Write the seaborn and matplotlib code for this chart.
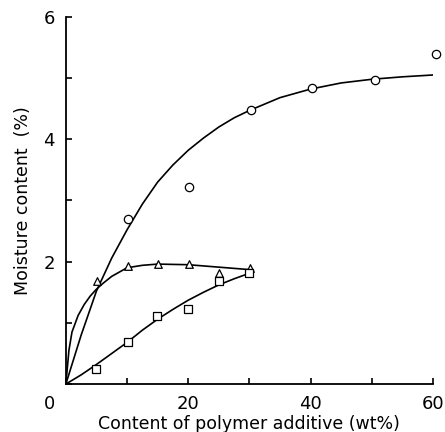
import numpy as np
import pandas as pd
import seaborn as sns
import matplotlib
matplotlib.use("Agg")
import matplotlib.pyplot as plt

# measured points
circ_x = [10.1, 20.2, 30.2, 40.2, 50.5, 60.5]
circ_y = [2.70, 3.22, 4.47, 4.83, 4.97, 5.39]
tri_x = [5.1, 10.1, 15.0, 20.2, 25.0, 30.1]
tri_y = [1.68, 1.93, 1.96, 1.96, 1.82, 1.90]
sq_x = [5.0, 10.1, 14.9, 20.0, 25.0, 30.0]
sq_y = [0.25, 0.68, 1.11, 1.22, 1.69, 1.82]

# fitted curves
circ_cx = [0, 2.5, 5, 7.5, 10, 12.5, 15, 17.5, 20, 22.5, 25, 27.5, 30, 35, 40, 45, 50, 55, 60]
circ_cy = [0, 0.8, 1.52, 2.06, 2.52, 2.94, 3.3, 3.58, 3.82, 4.02, 4.2, 4.35, 4.47, 4.68, 4.82, 4.92, 4.98, 5.02, 5.05]
tri_cx = [0, 0.5, 1, 2, 3, 4, 5, 6, 7.5, 10, 12.5, 15, 20, 25, 30]
tri_cy = [0, 0.55, 0.85, 1.12, 1.3, 1.44, 1.55, 1.64, 1.76, 1.9, 1.94, 1.96, 1.95, 1.91, 1.87]
sq_cx = [0, 2.5, 5, 7.5, 10, 12.5, 15, 17.5, 20, 22.5, 25, 27.5, 30]
sq_cy = [0, 0.15, 0.32, 0.5, 0.68, 0.88, 1.06, 1.22, 1.37, 1.5, 1.62, 1.72, 1.81]

sns.set_style("ticks")
plt.rcParams["font.family"] = ["DejaVu Sans"]
plt.rcParams["text.color"] = "black"
plt.rcParams["axes.labelcolor"] = "black"
plt.rcParams["xtick.color"] = "black"
plt.rcParams["ytick.color"] = "black"
plt.rcParams["axes.edgecolor"] = "black"

fig = plt.figure(figsize=(4.45, 4.32), dpi=100)
ax = fig.add_axes([0.148, 0.111, 0.825, 0.850])

for cx, cy in [(circ_cx, circ_cy), (tri_cx, tri_cy), (sq_cx, sq_cy)]:
    sns.lineplot(x=cx, y=cy, ax=ax, color="black", linewidth=1.2, sort=False)

for px, py, m, s in [(circ_x, circ_y, "o", 36), (tri_x, tri_y, "^", 30), (sq_x, sq_y, "s", 30)]:
    sns.scatterplot(x=px, y=py, ax=ax, marker=m, s=s, facecolor="white",
                    edgecolor="black", linewidth=0.9, zorder=3, clip_on=False)

ax.set_xlim(0, 60)
ax.set_ylim(0, 6)
ax.set_xticks(range(0, 61, 10))
ax.set_xticklabels(["", "", "20", "", "40", "", "60"])
ax.set_yticks(range(0, 7))
ax.set_yticklabels(["", "", "2", "", "4", "", "6"])
ax.tick_params(direction="in", length=4, width=1.2, labelsize=13, pad=8)
ax.text(-2.6, -0.18, "0", fontsize=13, ha="center", va="top")
sns.despine(ax=ax)
for sp in ["left", "bottom"]:
    ax.spines[sp].set_linewidth(1.3)

ax.set_xlabel("Content of polymer additive (wt%)", fontsize=12.5, labelpad=1)
ax.set_ylabel("Moisture content  (%)", fontsize=12.5, labelpad=8)

fig.savefig("out.png", dpi=100)
